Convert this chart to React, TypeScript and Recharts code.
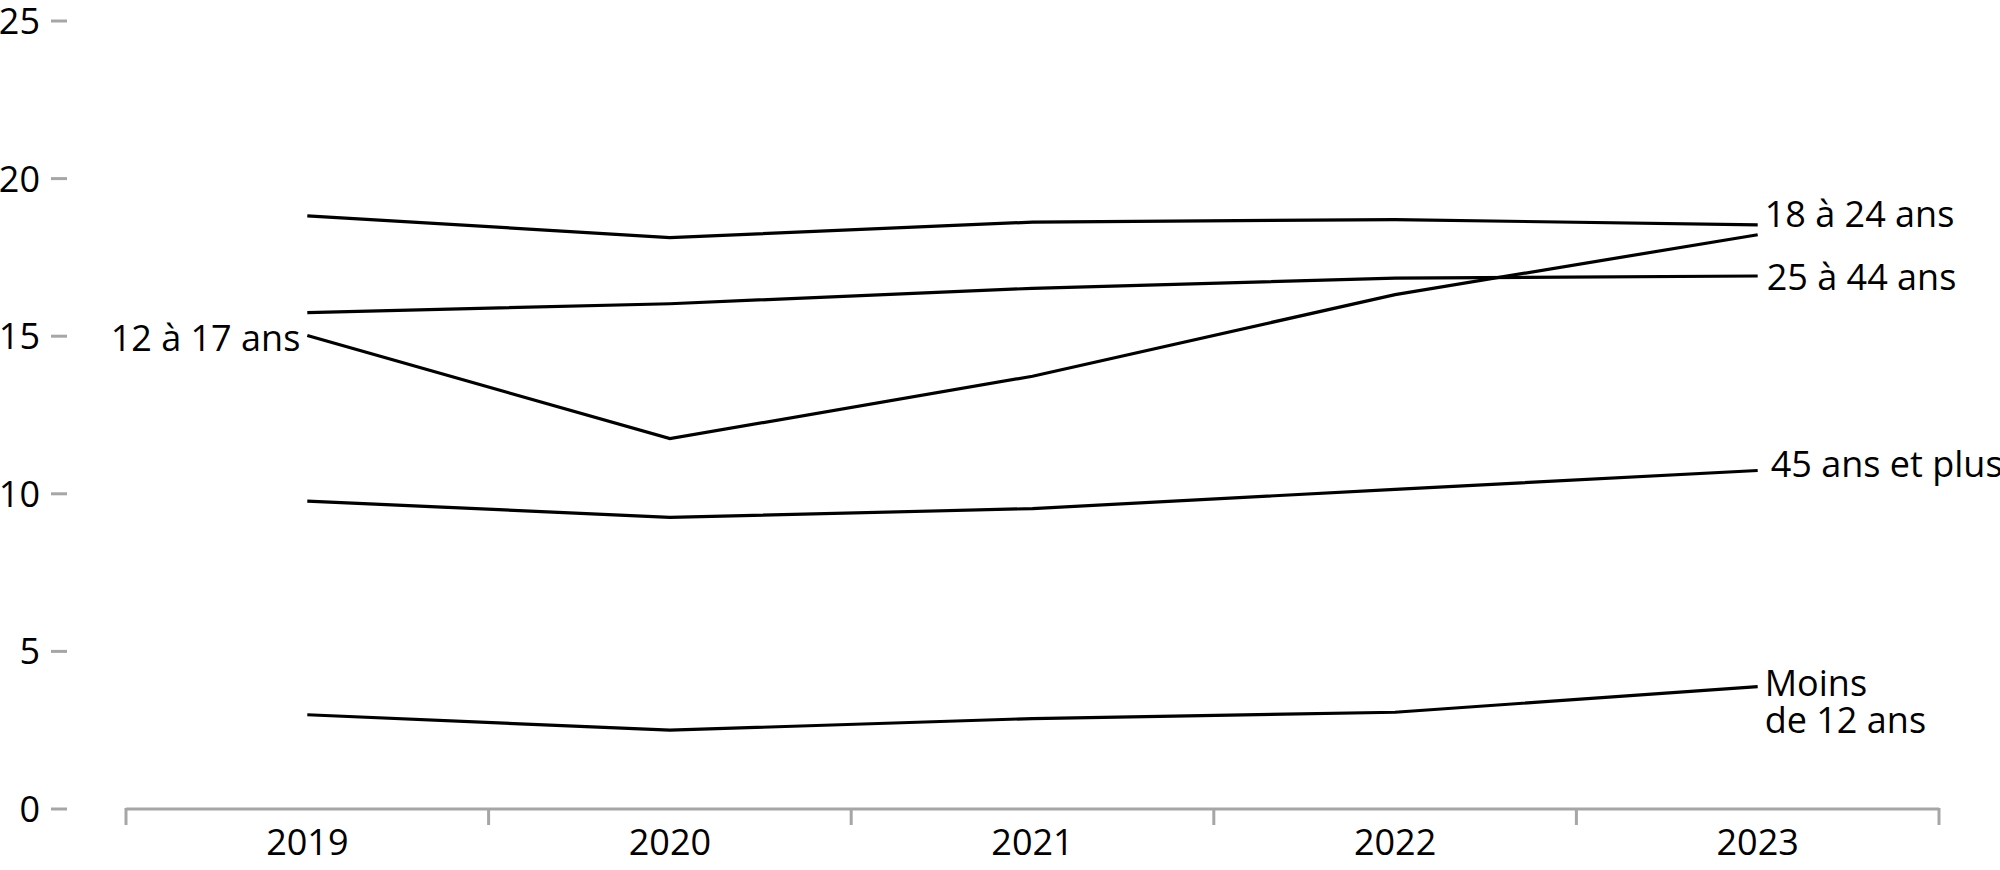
import { LineChart, Line, XAxis, YAxis, LabelList } from "recharts";

const YEARS = [2019, 2020, 2021, 2022, 2023];
const MOINS_12 = [2.99, 2.5, 2.87, 3.07, 3.88];
const AGE_12_17 = [15.02, 11.75, 13.73, 16.32, 18.22];
const AGE_18_24 = [18.82, 18.13, 18.62, 18.7, 18.53];
const AGE_25_44 = [15.75, 16.03, 16.52, 16.84, 16.91];
const AGE_45_PLUS = [9.77, 9.25, 9.53, 10.14, 10.74];
const Y_TICKS = [0, 5, 10, 15, 20, 25];

const AXIS_GREY = "#a6a6a6";
const FONT_SIZE = 36;

const data = YEARS.map((year, i) => ({
  year,
  moins12: MOINS_12[i],
  age12_17: AGE_12_17[i],
  age18_24: AGE_18_24[i],
  age25_44: AGE_25_44[i],
  age45plus: AGE_45_PLUS[i],
}));

// band edges between the years, plus the years themselves (labels)
const X_TICKS = [YEARS[0] - 0.5, ...YEARS.flatMap((y) => [y, y + 0.5])];

const SERIES = [
  { key: "age18_24", text: ["18 à 24 ans"], atStart: false, dx: 7, dy: -11 },
  { key: "age25_44", text: ["25 à 44 ans"], atStart: false, dx: 9, dy: 1 },
  { key: "age12_17", text: ["12 à 17 ans"], atStart: true, dx: -7, dy: 2 },
  { key: "age45plus", text: ["45 ans et plus"], atStart: false, dx: 13, dy: -6 },
  { key: "moins12", text: ["Moins", "de 12 ans"], atStart: false, dx: 7, dy: -4 },
];

function YTick(props: any) {
  const { x, y, payload } = props;
  return (
    <g>
      <line x1={x - 75} x2={x - 59} y1={y} y2={y} stroke={AXIS_GREY} strokeWidth={3} />
      <text x={x - 86} y={y} dy="0.36em" textAnchor="end" fontSize={FONT_SIZE} fill="#000">
        {payload.value}
      </text>
    </g>
  );
}

function XTick(props: any) {
  const { x, y, payload } = props;
  if (Number.isInteger(payload.value)) {
    return (
      <text x={x} y={y + 46} textAnchor="middle" fontSize={FONT_SIZE} fill="#000">
        {payload.value}
      </text>
    );
  }
  return <line x1={x} x2={x} y1={y - 1} y2={y + 16} stroke={AXIS_GREY} strokeWidth={3} />;
}

function makeLabel(s: (typeof SERIES)[number]) {
  return (props: any) => {
    const { index } = props;
    const target = s.atStart ? 0 : YEARS.length - 1;
    if (index !== target) return null;
    const vb = props.viewBox || {};
    const x = (props.x ?? vb.x) + s.dx;
    const y = (props.y ?? vb.y) + s.dy;
    return (
      <text
        x={x}
        y={y}
        textAnchor={s.atStart ? "end" : "start"}
        fontSize={FONT_SIZE}
        fill="#000"
      >
        {s.text.map((t, i) => (
          <tspan key={t} x={x} dy={i === 0 ? "0.36em" : "1.05em"}>
            {t}
          </tspan>
        ))}
      </text>
    );
  };
}

export default function App() {
  return (
    <div style={{ position: "absolute", left: 0, top: 0, fontFamily: "'Open Sans', sans-serif" }}>
      <LineChart
        width={2000}
        height={870}
        data={data}
        margin={{ top: 21, right: 61, bottom: 0, left: 0 }}
      >
        <XAxis
          dataKey="year"
          type="number"
          domain={[YEARS[0] - 0.5, YEARS[YEARS.length - 1] + 0.5]}
          ticks={X_TICKS}
          interval={0}
          height={61}
          tickSize={0}
          tickMargin={0}
          tickLine={false}
          axisLine={{ stroke: AXIS_GREY, strokeWidth: 3 }}
          tick={<XTick />}
        />
        <YAxis
          type="number"
          domain={[0, 25]}
          ticks={Y_TICKS}
          interval={0}
          width={126}
          tickSize={0}
          tickMargin={0}
          tickLine={false}
          axisLine={false}
          tick={<YTick />}
        />
        {SERIES.map((s) => (
          <Line
            key={s.key}
            type="linear"
            dataKey={s.key}
            stroke="#000"
            strokeWidth={3.2}
            dot={false}
            isAnimationActive={false}
          >
            <LabelList dataKey={s.key} content={makeLabel(s)} />
          </Line>
        ))}
      </LineChart>
    </div>
  );
}
